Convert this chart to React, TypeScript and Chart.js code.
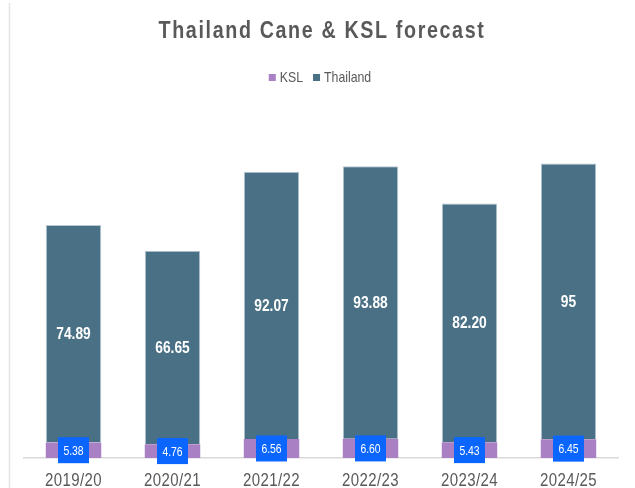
import React, { useEffect, useRef } from 'react';
import { Chart, registerables } from 'chart.js';

Chart.register(...registerables);

const titleText = 'Thailand Cane & KSL forecast';
const categories = ['2019/20', '2020/21', '2021/22', '2022/23', '2023/24', '2024/25'];
const seriesNames = ['KSL', 'Thailand'];
const kslValues = [5.38, 4.76, 6.56, 6.6, 5.43, 6.45];
const thailandValues = [74.89, 66.65, 92.07, 93.88, 82.2, 95];

const KSL_COLOR = '#a880c3';
const THAI_COLOR = '#4a7086';
const BOX_COLOR = '#0a66ff';
const TEXT_GRAY = '#595959';
const FONT = '"Liberation Sans", Arial, sans-serif';

const fmtThai = (v: number) => (Number.isInteger(v) ? String(v) : v.toFixed(2));
const fmtKsl = (v: number) => v.toFixed(2);

function drawScaled(
  ctx: CanvasRenderingContext2D,
  text: string,
  x: number,
  y: number,
  font: string,
  color: string,
  sx: number,
  align: CanvasTextAlign,
  baseline: CanvasTextBaseline,
  letterSpacing?: string
) {
  ctx.save();
  ctx.font = font;
  ctx.fillStyle = color;
  ctx.textAlign = align;
  ctx.textBaseline = baseline;
  if (letterSpacing) (ctx as any).letterSpacing = letterSpacing;
  ctx.translate(x, y);
  ctx.scale(sx, 1);
  ctx.fillText(text, 0, 0);
  ctx.restore();
}

const textPlugin = {
  id: 'customText',
  afterDraw(chart: any) {
    const ctx: CanvasRenderingContext2D = chart.ctx;

    // faint frame line on the left
    ctx.save();
    ctx.strokeStyle = '#e4e4e4';
    ctx.lineWidth = 1.5;
    ctx.beginPath();
    ctx.moveTo(9.5, 3);
    ctx.lineTo(9.5, 488);
    ctx.stroke();
    ctx.restore();

    // title
    drawScaled(ctx, titleText, 322, 38, `bold 24px ${FONT}`, TEXT_GRAY, 0.82, 'center', 'alphabetic', '2px');

    // legend
    const legendFont = `15px ${FONT}`;
    const lsx = 0.82;
    ctx.save();
    ctx.font = legendFont;
    const colors = [KSL_COLOR, THAI_COLOR];
    const sq = 7;
    const gap = 4;
    const itemGap = 10;
    const widths = seriesNames.map((n) => ctx.measureText(n).width * lsx);
    ctx.restore();
    let total = 0;
    widths.forEach((w, i) => {
      total += sq + gap + w + (i < widths.length - 1 ? itemGap : 0);
    });
    let lx = 320 - total / 2;
    seriesNames.forEach((n, i) => {
      ctx.save();
      ctx.fillStyle = colors[i];
      ctx.fillRect(lx, 74, sq, sq);
      ctx.restore();
      drawScaled(ctx, n, lx + sq + gap, 82, legendFont, TEXT_GRAY, lsx, 'left', 'alphabetic');
      lx += sq + gap + widths[i] + itemGap;
    });

    // x labels
    const xs = chart.scales.x;
    categories.forEach((c, i) => {
      const x = xs.getPixelForValue(i);
      drawScaled(ctx, c, x, 486, `19px ${FONT}`, TEXT_GRAY, 0.79, 'center', 'alphabetic', '0.5px');
    });

    // Thailand labels
    const metaT = chart.getDatasetMeta(1);
    metaT.data.forEach((el: any, i: number) => {
      const mid = (el.y + el.base) / 2;
      drawScaled(ctx, fmtThai(thailandValues[i]), el.x, mid + 1, `bold 16px ${FONT}`, '#ffffff', 0.86, 'center', 'middle');
    });

    // KSL labels in blue boxes
    const metaK = chart.getDatasetMeta(0);
    metaK.data.forEach((el: any, i: number) => {
      const mid = (el.y + el.base) / 2;
      ctx.save();
      ctx.fillStyle = BOX_COLOR;
      ctx.fillRect(el.x - 15.5, mid - 13, 31, 26);
      ctx.restore();
      drawScaled(ctx, fmtKsl(kslValues[i]), el.x, mid + 1, `13px ${FONT}`, '#ffffff', 0.8, 'center', 'middle');
    });
  },
};

export default function App() {
  const ref = useRef<HTMLCanvasElement>(null);
  useEffect(() => {
    const chart = new Chart(ref.current!, {
      type: 'bar',
      data: {
        labels: categories,
        datasets: [
          {
            label: seriesNames[0],
            data: kslValues,
            backgroundColor: KSL_COLOR,
            borderWidth: 0,
            barPercentage: 0.56,
            categoryPercentage: 1,
          },
          {
            label: seriesNames[1],
            data: thailandValues,
            backgroundColor: THAI_COLOR,
            borderColor: '#b8c8d2',
            borderWidth: 1,
            barPercentage: 0.56,
            categoryPercentage: 1,
          },
        ],
      },
      options: {
        animation: false,
        responsive: false,
        devicePixelRatio: 1,
        layout: { padding: { top: 98, bottom: 30, left: 24, right: 17 } },
        plugins: {
          legend: { display: false },
          title: { display: false },
          tooltip: { enabled: false },
        },
        scales: {
          x: {
            stacked: true,
            grid: { display: false, drawTicks: false },
            ticks: { display: false },
            border: { display: true, color: '#d9d9d9', width: 1.5 },
          },
          y: {
            stacked: true,
            display: false,
            min: 0,
            max: 124,
          },
        },
      },
      plugins: [textPlugin],
    });
    return () => chart.destroy();
  }, []);
  return (
    <div style={{ position: 'fixed', left: 0, top: 0, width: 635, height: 488, background: '#ffffff' }}>
      <canvas ref={ref} width={635} height={488} style={{ display: 'block', width: 635, height: 488 }} />
    </div>
  );
}
